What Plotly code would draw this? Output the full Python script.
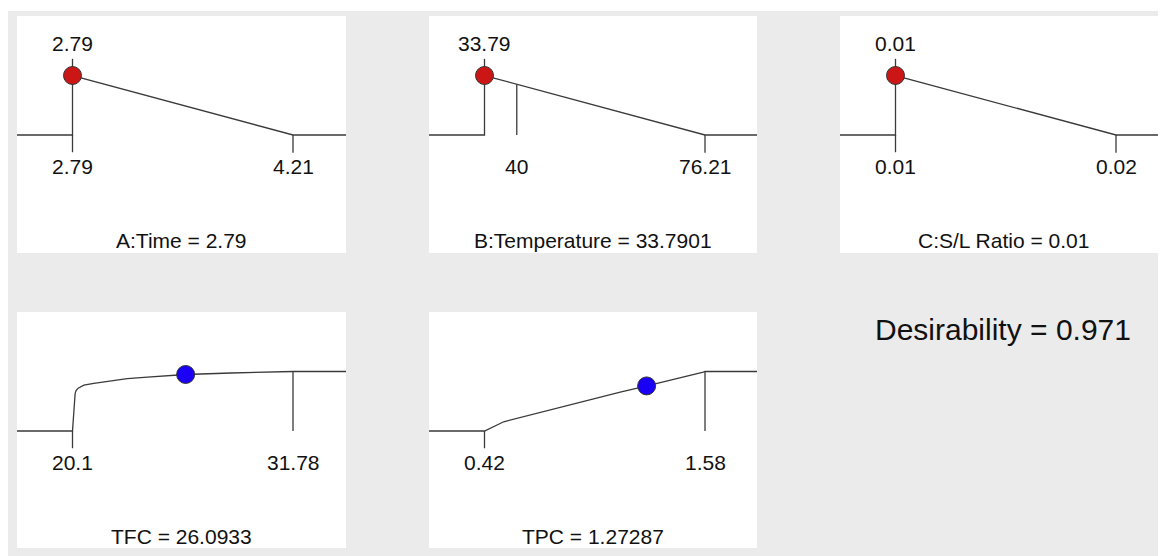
import numpy as np
import plotly.graph_objects as go

# page body has an 8px margin, so the figure starts at (8, 8) in the window
OX, OY = 8, 8
W, H = 1166 - OX, 556 - OY

# ---------------- data ----------------
panel_titles = ["A:Time = 2.79", "B:Temperature = 33.7901", "C:S/L Ratio = 0.01",
                "TFC = 26.0933", "TPC = 1.27287"]
axis_min = [2.79, 33.79, 0.01, 20.1, 0.42]
axis_max = [4.21, 76.21, 0.02, 31.78, 1.58]
current_value = [2.79, 33.7901, 0.01, 26.0933, 1.27287]
top_labels = ["2.79", "33.79", "0.01", None, None]
bottom_tick_values = [[2.79, 4.21], [40, 76.21], [0.01, 0.02], [20.1, 31.78], [0.42, 1.58]]
bottom_tick_labels = [["2.79", "4.21"], ["40", "76.21"], ["0.01", "0.02"],
                      ["20.1", "31.78"], ["0.42", "1.58"]]
desirability_text = "Desirability = 0.971"

# desirability ramps (x value, desirability)
time_x = [2.79, 2.79, 4.21]
time_d = [0.0, 1.0, 0.0]
temp_x = [33.79, 33.79, 76.21]
temp_d = [0.0, 1.0, 0.0]
ratio_x = [0.01, 0.01, 0.02]
ratio_d = [0.0, 1.0, 0.0]
tfc_x = [20.1, 20.24, 20.29, 20.4, 20.70, 21.23, 21.94, 23.0, 24.07, 25.48, 26.09, 28.5, 31.78]
tfc_d = [0.0, 0.63, 0.68, 0.72, 0.77, 0.80, 0.83, 0.88, 0.905, 0.94, 0.95, 0.975, 1.0]
tpc_x = [0.42, 0.521, 0.609, 0.871, 1.134, 1.269, 1.397, 1.571, 1.58]
tpc_d = [0.0, 0.155, 0.228, 0.445, 0.655, 0.755, 0.85, 0.99, 1.0]

ramps_x = [time_x, temp_x, ratio_x, tfc_x, tpc_x]
ramps_d = [time_d, temp_d, ratio_d, tfc_d, tpc_d]

# ---------------- layout geometry (window pixels) ----------------
panel_px = [  # (x0, x1, y0, y1)
    (17, 346, 16, 253),
    (429, 757, 16, 253),
    (840, 1166, 16, 253),
    (17, 346, 312, 548),
    (429, 757, 312, 548),
]
LOW_OFF, SPAN = 55.5, 220.5      # px from panel left to axis_min, px between min and max
BASE_OFF, UNIT = 119.0, 59.5     # px from panel top to d=0, px per unit desirability

LINE = "#3a3a3a"
TXT = "#111111"
FONT = "Liberation Sans, Arial, sans-serif"


def px_x(p):
    return (p - OX) / W


def px_y(p):
    return 1 - (p - OY) / H


fig = go.Figure()
annotations = []
layout_axes = {}

for i in range(5):
    x0, x1, y0, y1 = panel_px[i]
    w, h = x1 - x0, y1 - y0
    u = (axis_max[i] - axis_min[i]) / SPAN
    xr = [axis_min[i] - LOW_OFF * u, axis_min[i] + (w - LOW_OFF) * u]
    yr = [-(h - BASE_OFF) / UNIT, BASE_OFF / UNIT]
    sfx = "" if i == 0 else str(i + 1)
    xa, ya = "x" + sfx, "y" + sfx
    layout_axes["xaxis" + sfx] = dict(domain=[px_x(x0), min(1.0, px_x(x1))], range=xr,
                                      visible=False, anchor=ya, fixedrange=True)
    layout_axes["yaxis" + sfx] = dict(domain=[px_y(y1), px_y(y0)], range=yr, visible=False,
                                      anchor=xa, fixedrange=True)

    span = axis_max[i] - axis_min[i]
    rx = ramps_x[i]
    rd = ramps_d[i]
    lx = [axis_min[i] - span] + list(rx) + [axis_max[i] + span]
    ld = [rd[0]] + list(rd) + [rd[-1]]
    fig.add_trace(go.Scatter(x=lx, y=ld, mode="lines", xaxis=xa, yaxis=ya,
                             line=dict(color=LINE, width=1.3), hoverinfo="skip",
                             showlegend=False))

    # vertical marker / tick segments
    segs = []
    if i < 3:
        segs.append((current_value[i], 1.0, 1.28))
    lo_v, hi_v = bottom_tick_values[i]
    if i == 1:
        d_at = float(np.interp(lo_v, rx[1:], rd[1:]))
        segs.append((lo_v, 0.0, d_at))
    else:
        segs.append((lo_v, 0.0, -0.29))
    if i < 3:
        segs.append((hi_v, 0.0, -0.30))
    else:
        segs.append((hi_v, 0.0, 1.0))
    sx, sy = [], []
    for (vx, a, b) in segs:
        sx += [vx, vx, None]
        sy += [a, b, None]
    fig.add_trace(go.Scatter(x=sx, y=sy, mode="lines", xaxis=xa, yaxis=ya,
                             line=dict(color=LINE, width=1.3), hoverinfo="skip",
                             showlegend=False))

    # current point
    cx_src = rx[1:] if i < 3 else rx
    cd_src = rd[1:] if i < 3 else rd
    cd = float(np.interp(current_value[i], cx_src, cd_src))
    fig.add_trace(go.Scatter(x=[current_value[i]], y=[cd], mode="markers", xaxis=xa, yaxis=ya,
                             marker=dict(size=18, color="#cc1616" if i < 3 else "#1a00f5",
                                         line=dict(color="#333333", width=1)),
                             hoverinfo="skip", showlegend=False, cliponaxis=False))

    # labels
    if top_labels[i]:
        annotations.append(dict(x=current_value[i], y=1.53, xref=xa, yref=ya, text=top_labels[i],
                                showarrow=False, font=dict(size=21, color=TXT, family=FONT),
                                xanchor="center", yanchor="middle"))
    for vx, lab in zip(bottom_tick_values[i], bottom_tick_labels[i]):
        annotations.append(dict(x=vx, y=-0.53, xref=xa, yref=ya, text=lab, showarrow=False,
                                font=dict(size=21, color=TXT, family=FONT),
                                xanchor="center", yanchor="middle"))
    annotations.append(dict(x=0.5, y=-1.77, xref=xa + " domain", yref=ya, text=panel_titles[i],
                            showarrow=False, font=dict(size=21, color=TXT, family=FONT),
                            xanchor="center", yanchor="middle"))

annotations.append(dict(x=px_x(1003), y=px_y(329), xref="paper", yref="paper",
                        text=desirability_text, showarrow=False,
                        font=dict(size=30, color=TXT, family=FONT),
                        xanchor="center", yanchor="middle"))

shapes = [
    dict(type="rect", xref="paper", yref="paper", x0=0, x1=1, y0=px_y(11), y1=1,
         fillcolor="white", line=dict(width=0), layer="below"),
]

fig.update_layout(width=W, height=H, margin=dict(l=0, r=0, t=0, b=0),
                  paper_bgcolor="#ebebeb", plot_bgcolor="white",
                  annotations=annotations, shapes=shapes, showlegend=False,
                  **layout_axes)

fig.write_html("out.html")
